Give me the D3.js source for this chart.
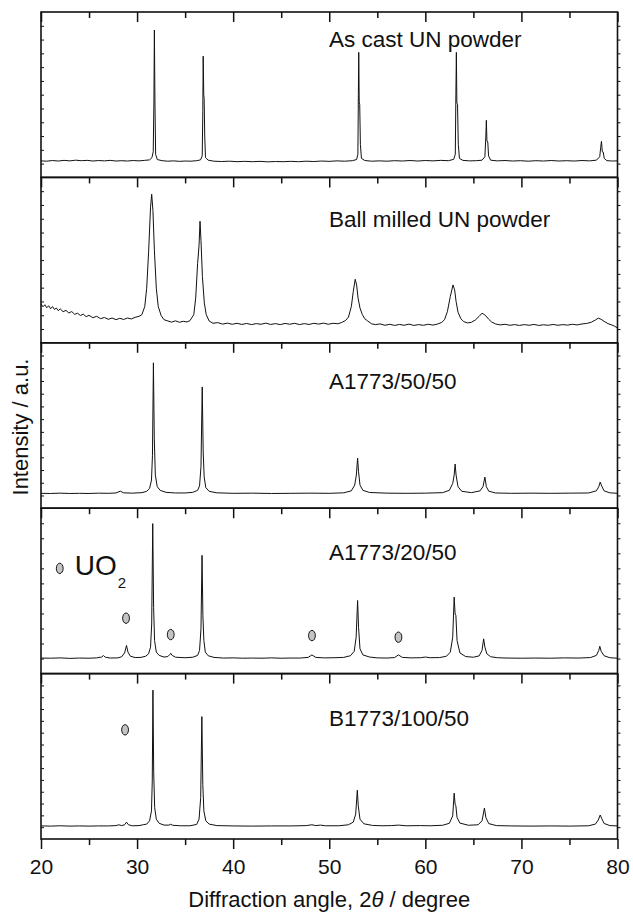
<!DOCTYPE html>
<html><head><meta charset="utf-8">
<script src="https://cdn.jsdelivr.net/npm/d3@7"></script>
<style>
html,body{margin:0;padding:0;background:#fff;}
svg{display:block;}
text{font-family:"Liberation Sans",Arial,Helvetica,sans-serif;fill:#111;}
</style></head>
<body>
<svg id="chart" width="633" height="914"></svg>
<script>
// ---------- data (intensity in a.u., 0-100 per panel) ----------
const panelLabels = ["As cast UN powder","Ball milled UN powder","A1773/50/50","A1773/20/50","B1773/100/50"];
const xTicksMajor = [20,30,40,50,60,70,80];
const xTicksMinor = [25,35,45,55,65,75];

const asCast = [[20,10.0],[20.6,9.8],[21.2,10.2],[21.8,9.9],[22.4,10.3],[23.0,10.0],[23.6,10.4],[24.2,10.1],[24.8,10.3],[25.4,9.9],[26.0,10.2],[26.6,10.0],[27.2,10.3],[27.8,9.9],[28.4,10.1],[29.0,9.9],[29.6,10.2],[30.2,10.0],[30.8,10.3],[31.3,10.6],[31.55,12],[31.68,15.5],[31.75,45],[31.8,89.1],[31.86,45],[31.93,14],[32.1,10.8],[32.6,10.1],[33.2,9.8],[33.8,10.0],[34.4,9.7],[35.0,9.9],[35.6,9.8],[36.2,10.1],[36.6,10.6],[36.78,13],[36.84,40],[36.88,73.3],[36.94,50],[36.98,47.7],[37.04,25],[37.12,12],[37.4,10.4],[38.0,9.8],[38.8,9.6],[39.6,9.8],[40.4,9.5],[41.2,9.7],[42.0,9.5],[42.8,9.7],[43.6,9.4],[44.4,9.6],[45.2,9.5],[46.0,9.7],[46.8,9.5],[47.6,9.8],[48.4,9.6],[49.2,9.9],[50.0,9.7],[50.8,10.0],[51.6,9.8],[52.4,10.1],[52.85,10.8],[52.98,14],[53.03,50],[53.07,75.6],[53.12,45],[53.17,44.2],[53.24,20],[53.35,11.5],[53.7,10.2],[54.4,9.8],[55.2,10.0],[56.0,9.8],[56.8,10.1],[57.6,9.9],[58.4,10.2],[59.2,9.9],[60.0,10.2],[60.8,10.0],[61.6,10.3],[62.4,10.1],[62.95,10.9],[63.12,14],[63.18,50],[63.23,75.6],[63.28,45],[63.35,44.2],[63.43,20],[63.55,11.5],[63.9,10.3],[64.6,10.0],[65.3,10.1],[65.9,10.4],[66.2,12.5],[66.3,25],[66.35,34.5],[66.41,22],[66.5,21.4],[66.58,13],[66.8,10.4],[67.5,10.0],[68.3,10.2],[69.1,9.9],[69.9,10.1],[70.7,9.8],[71.5,10.1],[72.3,9.9],[73.1,10.2],[73.9,9.9],[74.7,10.1],[75.5,9.9],[76.3,10.2],[77.1,10.0],[77.8,10.4],[78.15,12.5],[78.25,18],[78.33,21.8],[78.42,15.5],[78.52,15.3],[78.62,11.5],[78.9,10.1],[79.5,9.9],[80,10.0]];

const ballMilled = [[20,23.5],[20.2,21.8],[20.4,23.0],[20.6,21.2],[20.8,22.4],[21.0,20.6],[21.2,21.9],[21.4,20.2],[21.6,21.0],[21.8,19.4],[22.0,20.5],[22.3,18.8],[22.6,19.6],[22.9,18.0],[23.2,18.9],[23.5,17.2],[23.8,17.9],[24.1,16.5],[24.4,17.3],[24.7,15.8],[25.0,16.6],[25.4,15.2],[25.8,16.0],[26.2,14.6],[26.6,15.3],[27.0,14.2],[27.4,15.0],[27.8,14.0],[28.2,14.8],[28.6,14.1],[29.0,15.0],[29.4,14.4],[29.8,15.4],[30.2,16.0],[30.5,17.0],[30.8,22],[31.0,33],[31.2,55],[31.4,82],[31.52,89.8],[31.65,80],[31.8,56],[32.0,33],[32.2,22],[32.5,16.5],[32.8,14.0],[33.2,13.2],[33.6,12.5],[34.0,13.3],[34.4,12.4],[34.8,13.0],[35.2,12.6],[35.5,13.4],[35.9,17],[36.1,27],[36.3,48],[36.45,59],[36.55,73.5],[36.65,62],[36.8,40],[37.0,24],[37.2,17],[37.5,13.2],[37.9,11.8],[38.4,12.2],[38.9,11.3],[39.4,11.9],[39.9,11.2],[40.4,11.8],[40.9,11.1],[41.4,11.7],[41.9,11.0],[42.4,11.6],[42.9,11.2],[43.4,11.9],[43.9,11.1],[44.4,11.6],[44.9,11.0],[45.4,11.7],[45.9,11.2],[46.4,11.8],[46.9,11.0],[47.4,11.6],[47.9,11.1],[48.4,11.8],[48.9,11.3],[49.4,11.9],[49.9,11.2],[50.4,11.8],[50.9,11.5],[51.3,12.3],[51.7,13.5],[52.0,15.5],[52.3,22],[52.5,31],[52.7,38.4],[52.85,35],[53.0,27],[53.2,21],[53.45,17],[53.7,14.5],[54.0,13.2],[54.4,11.5],[54.8,11.0],[55.3,11.4],[55.8,10.6],[56.3,11.2],[56.8,10.5],[57.3,11.1],[57.8,10.6],[58.3,11.3],[58.8,10.5],[59.3,11.0],[59.8,10.6],[60.3,11.2],[60.8,10.7],[61.3,11.4],[61.7,12.3],[62.0,14],[62.3,19],[62.6,28],[62.88,35],[63.05,32],[63.2,25],[63.4,18.5],[63.7,14.5],[64.0,12.8],[64.4,12.0],[64.8,12.4],[65.2,13.8],[65.6,16.0],[65.9,17.9],[66.1,17.2],[66.3,16.3],[66.6,14.2],[66.9,12.6],[67.3,11.4],[67.8,10.8],[68.3,11.2],[68.8,10.6],[69.3,11.0],[69.8,10.5],[70.3,11.0],[70.8,10.6],[71.3,11.1],[71.8,10.5],[72.3,10.9],[72.8,10.6],[73.3,11.1],[73.8,10.6],[74.3,11.0],[74.8,10.7],[75.3,11.2],[75.8,10.8],[76.3,11.4],[76.8,11.7],[77.3,12.5],[77.7,13.8],[78.0,14.9],[78.3,14.2],[78.6,13.0],[79.0,11.6],[79.4,10.8],[79.7,10.0],[80,9.0]];

const a1773_50_50 = [[20,9.0],[21,8.9],[22,9.1],[23,8.9],[24,9.0],[25,8.9],[26,9.1],[27,9.0],[27.8,9.2],[28.25,10.3],[28.6,9.3],[29.5,9.1],[30.5,9.4],[31.0,10.2],[31.3,12],[31.5,17],[31.6,32],[31.7,87.9],[31.79,42],[31.9,20],[32.1,13],[32.4,10.8],[33,9.6],[34,9.2],[35,9.2],[35.8,9.6],[36.3,10.8],[36.5,13.5],[36.65,25],[36.78,73.3],[36.88,34],[36.98,19],[37.15,12.5],[37.5,10.2],[38.3,9.3],[40,9],[42,9.1],[44,8.9],[46,9.0],[48,9.1],[50,9.0],[51.5,9.3],[52.3,10.5],[52.65,14],[52.82,20],[52.95,30.3],[53.05,22],[53.2,14],[53.5,10.8],[54.2,9.5],[56,9.1],[58,9.0],[60,9.1],[61.8,9.4],[62.5,10.8],[62.85,15],[63.0,20],[63.1,26.7],[63.2,20],[63.4,13],[63.8,10.2],[64.8,9.4],[65.7,10.5],[66.0,13],[66.2,18.8],[66.35,13],[66.6,10.3],[67.3,9.2],[69,9],[71,9.1],[73,9.0],[75,9.1],[77,9.2],[77.8,10.5],[78.05,13],[78.2,15.8],[78.35,13.5],[78.6,10.5],[79.2,9.3],[80,9.0]];

const a1773_20_50 = [[20,9.4],[21,9.3],[22,9.5],[23,9.2],[24,9.4],[25,9.3],[25.8,9.5],[26.3,10.0],[26.5,10.9],[26.7,9.9],[27.2,9.4],[28,9.5],[28.4,10.2],[28.7,12.5],[28.9,17.0],[29.05,13],[29.3,10.5],[29.8,9.7],[30.4,9.8],[30.9,10.5],[31.2,12],[31.4,16],[31.52,30],[31.63,90.7],[31.72,40],[31.82,20],[32.0,13],[32.3,11],[32.8,10],[33.2,10.3],[33.4,11.5],[33.5,12.3],[33.65,11],[34,9.9],[35,9.6],[35.8,9.9],[36.3,11],[36.5,14],[36.65,27],[36.76,71.5],[36.85,35],[36.95,20],[37.1,13],[37.4,10.8],[38,9.8],[39,9.4],[40,9.5],[41,9.3],[42,9.4],[43,9.3],[44,9.5],[45,9.3],[46,9.4],[47,9.4],[47.8,9.8],[48.2,11.3],[48.6,9.8],[49.5,9.5],[50.5,9.6],[51.5,9.8],[52.2,10.8],[52.6,13.5],[52.8,22],[52.95,44.2],[53.05,28],[53.2,15],[53.5,11.3],[54.2,10],[55,9.5],[56,9.4],[56.8,9.7],[57.2,11.3],[57.6,9.8],[58.5,9.5],[59.5,9.6],[60.0,10],[60.5,9.6],[61.5,9.7],[62.2,10.5],[62.6,13],[62.85,22],[63.0,46.2],[63.1,36],[63.18,35.2],[63.3,20],[63.6,12.5],[64.2,10.3],[65.0,9.9],[65.6,10.7],[65.9,14],[66.07,21],[66.2,16],[66.4,12],[66.8,10.2],[67.5,9.6],[68.5,9.4],[70,9.3],[71.5,9.4],[73,9.3],[74.5,9.5],[76,9.4],[77.2,9.7],[77.8,11],[78.05,14],[78.16,16.5],[78.3,13.5],[78.6,10.8],[79.2,9.6],[80,9.3]];

const b1773_100_50 = [[20,7.9],[21,7.8],[22,8.0],[23,7.8],[24,7.9],[25,7.8],[26,7.9],[27,7.9],[27.8,8.1],[28.1,8.6],[28.4,8.1],[28.7,8.6],[28.9,10.2],[29.1,8.6],[29.5,8.0],[30.2,8.1],[30.7,8.7],[31.0,9.0],[31.3,11],[31.5,17],[31.58,35],[31.65,90],[31.73,40],[31.83,19],[32.0,12],[32.3,9.5],[32.8,8.4],[33.3,8.4],[33.5,8.9],[33.7,8.3],[34.5,8.0],[35.5,8.0],[36.2,8.8],[36.45,12],[36.62,25],[36.74,74],[36.84,33],[36.95,17],[37.15,11],[37.5,9],[38.3,8.1],[40,7.9],[42,7.8],[44,7.9],[46,7.9],[47.6,8.1],[48.2,8.6],[48.6,8.1],[49.1,8.4],[49.6,8.0],[51,8.0],[52.0,8.6],[52.5,10.2],[52.75,15],[52.92,29.5],[53.02,20],[53.2,12],[53.6,9.2],[54.5,8.2],[55.5,8.0],[56.5,8.1],[57.2,8.4],[58,8.0],[59.5,8.1],[60.5,8.0],[61.8,8.3],[62.5,9.5],[62.85,14],[63.0,27.7],[63.1,21],[63.18,20],[63.3,13],[63.6,9.6],[64.5,8.3],[65.5,8.6],[65.9,11],[66.15,18.7],[66.3,13],[66.6,9.3],[67.4,8.1],[69,7.9],[71,7.8],[73,7.9],[75,7.8],[77,8.0],[77.7,9],[78.0,11.5],[78.2,14.5],[78.35,12.5],[78.6,9.4],[79.2,8.1],[80,7.9]];

const seriesList = [asCast, ballMilled, a1773_50_50, a1773_20_50, b1773_100_50];

// UO2 markers: [panel index, 2theta, intensity]
const uo2Markers = [[3,28.85,33.5],[3,33.5,23.6],[3,48.2,23.0],[3,57.2,22.0],[4,28.75,66.0]];
const uo2Legend = [3,21.95,63.6];

// ---------- layout / style ----------
const yTickCounts = [12,12,13,11,14];
const labelBaselines = [47,227,389,560,726];
const svg = d3.select("#chart");
const plotLeft = 41, plotRight = 617.5, plotTop = 12, plotBottom = 839;
const x = d3.scaleLinear().domain([20,80]).range([plotLeft, plotRight]);
const band = d3.scaleBand().domain(d3.range(panelLabels.length)).range([plotTop, plotBottom]);
const ys = panelLabels.map((_, i) => d3.scaleLinear().domain([0,100]).range([band(i)+band.bandwidth(), band(i)]));

const line = d3.line();

panelLabels.forEach((lab, i) => {
  const y = ys[i];
  const top = band(i), bot = band(i)+band.bandwidth();
  const g = svg.append("g");

  // series line
  g.append("path")
    .attr("d", line(seriesList[i].map(d => [x(d[0]), y(d[1])])))
    .attr("fill","none").attr("stroke","#111").attr("stroke-width",1)
    .attr("stroke-linejoin","round");

  // top ticks (inward)
  const tMaj = d3.axisBottom(x).tickValues(xTicksMajor).tickSize(10).tickFormat("");
  const tMin = d3.axisBottom(x).tickValues(xTicksMinor).tickSize(6).tickFormat("");
  [tMaj, tMin].forEach(ax => {
    const a = g.append("g").attr("transform",`translate(0,${top})`).call(ax);
    a.select(".domain").remove();
    a.selectAll("line").attr("stroke","#111").attr("stroke-width",1.5);
  });

  // y ticks
  const n = yTickCounts[i];
  const yt = d3.range(1, n).map(k => k*100/n);
  const la = g.append("g").attr("transform",`translate(${plotLeft},0)`)
    .call(d3.axisRight(y).tickValues(yt).tickSize(3).tickFormat(""));
  la.select(".domain").remove();
  la.selectAll("line").attr("stroke","#111").attr("stroke-width",1);
  const ra = g.append("g").attr("transform",`translate(${plotRight},0)`)
    .call(d3.axisRight(y).tickValues(yt).tickSize(3).tickFormat(""));
  ra.select(".domain").remove();
  ra.selectAll("line").attr("stroke","#111").attr("stroke-width",1);

  // frame
  g.append("rect").attr("x",plotLeft).attr("y",top)
    .attr("width",plotRight-plotLeft).attr("height",bot-top)
    .attr("fill","none").attr("stroke","#111").attr("stroke-width",1.6);

  // label
  g.append("text").attr("x",329).attr("y",labelBaselines[i])
    .attr("font-size",22.5).text(lab);
});

// bottom axis
const bMaj = svg.append("g").attr("transform",`translate(0,${plotBottom})`)
  .call(d3.axisBottom(x).tickValues(xTicksMajor).tickSize(10).tickPadding(10).tickFormat(d3.format("d")));
bMaj.select(".domain").remove();
bMaj.selectAll("line").attr("stroke","#111").attr("stroke-width",1.5);
bMaj.selectAll("text").attr("font-size",21).attr("fill","#111")
  .style("font-family",'"Liberation Sans",Arial,sans-serif');
const bMin = svg.append("g").attr("transform",`translate(0,${plotBottom})`)
  .call(d3.axisBottom(x).tickValues(xTicksMinor).tickSize(6).tickFormat(""));
bMin.select(".domain").remove();
bMin.selectAll("line").attr("stroke","#111").attr("stroke-width",1.5);

// markers
svg.append("g").selectAll("ellipse").data(uo2Markers.concat([uo2Legend])).join("ellipse")
  .attr("cx", d => x(d[1])).attr("cy", d => ys[d[0]](d[2]))
  .attr("rx",3.4).attr("ry",5.2)
  .attr("fill","#c4c4c4").attr("stroke","#111").attr("stroke-width",1);

// legend text
const lt = svg.append("text").attr("x", x(uo2Legend[1]) + 15).attr("y", ys[uo2Legend[0]](uo2Legend[2]) + 7)
  .attr("font-size",28);
lt.append("tspan").text("UO");
lt.append("tspan").attr("font-size",15).attr("dy",13).attr("dx",1).text("2");

// axis titles
const xt = svg.append("text").attr("x",(plotLeft+plotRight)/2).attr("y",907)
  .attr("text-anchor","middle").attr("font-size",22);
xt.append("tspan").text("Diffraction angle, 2");
xt.append("tspan").attr("font-style","italic").text("θ");
xt.append("tspan").text(" / degree");

svg.append("text").attr("transform","translate(28,427) rotate(-90)")
  .attr("text-anchor","middle").attr("font-size",22).text("Intensity / a.u.");
</script>
</body></html>
